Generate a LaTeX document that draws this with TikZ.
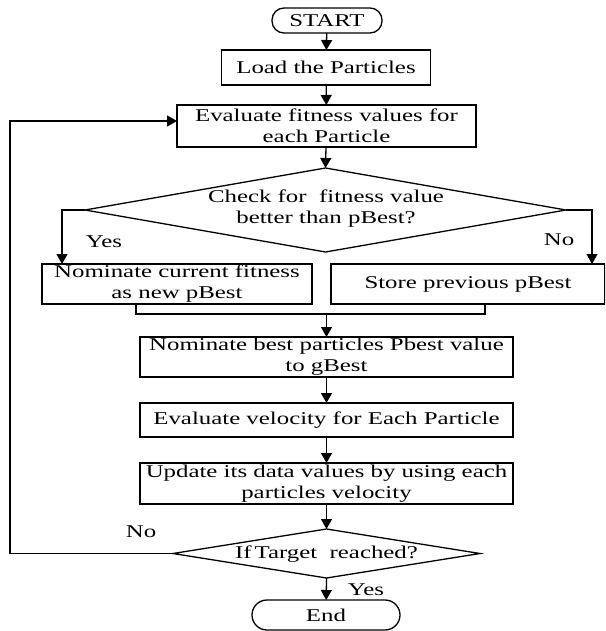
\documentclass[tikz,border=0pt]{standalone}
\usepackage{fontspec}
\setmainfont{Liberation Serif}[FakeStretch=1.38]
\usetikzlibrary{arrows.meta,shapes.geometric}

\begin{document}
\begin{tikzpicture}[x=1pt,y=-1pt,
  font=\fontsize{18}{21}\selectfont,
  every node/.style={inner sep=0pt, outer sep=0pt},
  box/.style={draw, line width=1.3pt, rectangle, align=center},
  term/.style={box, rounded corners=12pt},
  decision/.style={draw, line width=1.3pt, diamond},
  lbl/.style={align=center},
  link/.style={line width=1.3pt},
  arr/.style={link, -{Triangle[length=10pt,width=11pt]}}]

\useasboundingbox (0,0) rectangle (605,631);
\clip (0,0) rectangle (605,631);

% main column
\node[term, minimum width=110pt, minimum height=25pt] (start) at (327,20.5) {START};
\node[box, minimum width=209pt, minimum height=35pt] (load) at (326,67.5) {Load the Particles};
\node[box, minimum width=299pt, minimum height=42pt] (evalfit) at (326.5,126)
  {Evaluate fitness values for\\each Particle};
\node[decision, minimum width=481pt, minimum height=84pt] (check) at (325.5,210) {};
\node[lbl] (checktxt) at (326,209) {Check for~ fitness value\\better than pBest?};

% the two branches
\node[box, minimum width=270pt, minimum height=40pt] (nomcur) at (177,284)
  {Nominate current fitness\\as new pBest};
\node[box, minimum width=274pt, minimum height=40pt] (store) at (468,284)
  {Store previous pBest};
\node[lbl] (yes1) at (104,242) {Yes};
\node[lbl] (no1) at (559,240) {No};

% lower column
\node[box, minimum width=373pt, minimum height=40pt] (nombest) at (326.5,357)
  {Nominate best particles Pbest value\\to gBest};
\node[box, minimum width=373pt, minimum height=34pt] (evalvel) at (326.5,420)
  {Evaluate velocity for Each Particle};
\node[box, minimum width=373pt, minimum height=41pt] (update) at (326.5,483.5)
  {Update its data values by using each\\particles velocity};
\node[decision, minimum width=307pt, minimum height=49pt] (target) at (326.5,553.5) {};
\node[lbl] (targettxt) at (326.5,554) {If\,Target~ reached?};
\node[term, rounded corners=15pt, minimum width=148pt, minimum height=30pt] (end) at (326,615) {End};
\node[lbl] (no2) at (141,532) {No};
\node[lbl] (yes2) at (366,590) {Yes};

% connectors
\draw[arr] (start) -- (load);
\draw[arr] (load) -- (evalfit);
\draw[arr] (evalfit) -- (check.north);
\draw[arr] (check.west) -| ([xshift=20pt]nomcur.north west);
\draw[arr] (check.east) -| ([xshift=-13pt]store.north east);
\coordinate (merge) at (326.5,314);
\draw[link] ([xshift=94pt]nomcur.south west) |- (merge)
  -| ([xshift=154pt]store.south west);
\draw[arr] (merge) -- (nombest.north);
\draw[arr] (nombest) -- (evalvel);
\draw[arr] (evalvel) -- (update);
\draw[arr] (update) -- (target.north);
\draw[arr] (target.south) -- (end);
\coordinate (loopcorner) at (10,553.5);
\draw[arr] (target.west) -- (loopcorner) |- ([yshift=5pt]evalfit.west);
\end{tikzpicture}
\end{document}
